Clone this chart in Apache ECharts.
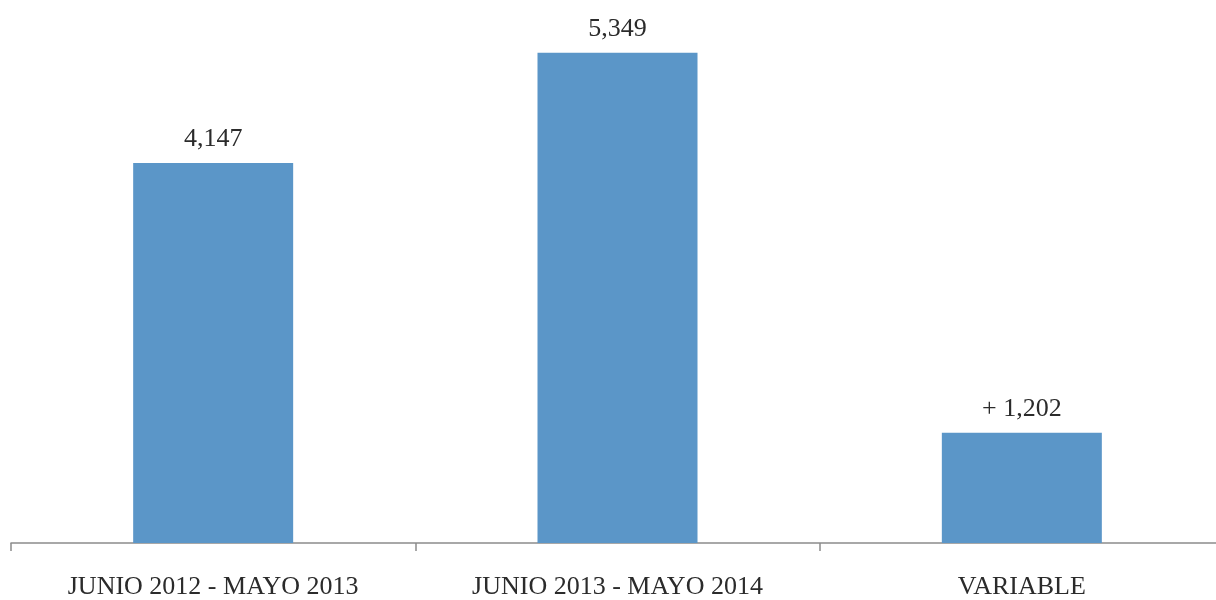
<!DOCTYPE html>
<html><head><meta charset="utf-8">
<script src="https://cdn.jsdelivr.net/npm/echarts@6/dist/echarts.min.js"></script>
<style>html,body{margin:0;padding:0;background:#fff}#c{width:1216px;height:600px}</style>
</head><body><div id="c"></div>
<script>
const categories = ["JUNIO 2012 - MAYO 2013", "JUNIO 2013 - MAYO 2014", "VARIABLE"];
const values = [4147, 5349, 1202];
const valueLabels = ["4,147", "5,349", "+ 1,202"];

const chart = echarts.init(document.getElementById('c'));
chart.setOption({
  animation: false,
  grid: { left: 11, width: 1213, top: 39, bottom: 57, outerBoundsMode: 'none', containLabel: false },
  xAxis: {
    type: 'category',
    data: categories,
    axisLine: { lineStyle: { color: '#8c8c8c', width: 1.5 } },
    axisTick: { show: true, alignWithLabel: false, length: 8, lineStyle: { color: '#8c8c8c', width: 1.5 } },
    axisLabel: { color: '#2b2b2b', fontFamily: 'Liberation Serif', fontSize: 26, margin: 31 }
  },
  yAxis: { type: 'value', min: 0, max: 5500, show: false, splitLine: { show: false } },
  series: [{
    type: 'bar',
    data: values,
    barWidth: 160,
    itemStyle: { color: '#5b96c8' },
    label: {
      show: true, position: 'top', distance: 11,
      color: '#2b2b2b', fontFamily: 'Liberation Serif', fontSize: 26,
      formatter: p => valueLabels[p.dataIndex]
    }
  }]
});
</script></body></html>
